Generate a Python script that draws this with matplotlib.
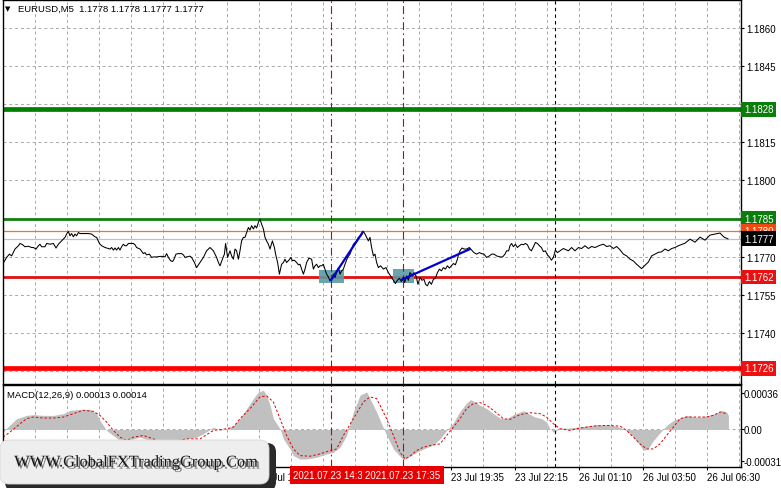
import matplotlib
matplotlib.use('Agg')
import matplotlib.pyplot as plt
from matplotlib.patches import Rectangle, FancyBboxPatch
from matplotlib.transforms import Affine2D, blended_transform_factory
import matplotlib.patheffects as pe

FONT = ['Liberation Sans', 'DejaVu Sans']
plt.rcParams['font.family'] = FONT

# ---------------- data ----------------
price_idx = [0, 1.8, 3.2, 4.3, 6, 7.7, 8.5, 9.8, 11, 12.7, 14.3, 15.2, 16.5, 17.7, 18.5, 19.3, 21, 21.8, 23.5, 25.2,
             26.5, 27.7, 29.3, 31, 31.8, 32.7, 33.5, 34.3, 35.2, 36, 36.8, 37.7, 38.5, 40.2, 42.7, 44.3, 46, 46.8, 48.2, 49.3,
             51, 51.8, 53.5, 54.3, 55.2, 56, 56.8, 57.7, 58.5, 59.3, 60.2, 61, 61.8, 62.7, 63.5, 65.2, 66, 66.8, 68.5, 70.2,
             71, 71.8, 73.2, 74.3, 75.2, 76.8, 78.5, 80.2, 81, 81.8, 82.7, 83.8, 84.8, 85.5, 86.5, 87.7, 89.3, 90.2, 91, 91.8,
             93.5, 94.3, 95.7, 96.8, 98.5, 100.2, 101.8, 103.5, 105.2, 106.8, 107.7, 108.5, 109.7, 110.7, 111.3, 112.3, 113.5, 114.3, 115.2, 116,
             116.8, 117.7, 118.5, 119.3, 120.2, 121, 121.8, 122.7, 123.5, 124.3, 125.2, 126, 126.8, 127.7, 128.5, 129.3, 130.2, 131, 131.8, 132.7,
             133.5, 134.7, 135.7, 136.3, 137.3, 138.2, 139.3, 140.2, 141, 141.8, 142.7, 144, 144.7, 145.7, 146.8, 147.7, 148.5, 149.3, 150.2, 151,
             151.8, 153, 154.3, 155.2, 156, 156.8, 157.7, 158.5, 159.3, 160.2, 160.7, 161.8, 162.7, 163.5, 164.3, 165.2, 166, 166.8, 167.7, 168.5,
             169.3, 170.2, 171, 172.3, 173.5, 175.2, 176.8, 177.7, 179, 180.2, 181, 181.8, 182.7, 183.5, 184.3, 185.2, 186, 186.8, 187.7, 188.8,
             190.2, 191.5, 192.7, 193.8, 195.2, 196.2, 197.2, 198.2, 199.2, 200.2, 200.8, 201.8, 202.7, 203.5, 204.8, 205.5, 206.5, 207.5, 208.5, 209.5,
             210.5, 211.3, 212.2, 213.2, 214.2, 215.2, 216.2, 217.2, 218.2, 219.2, 220.2, 221.2, 222.2, 223.2, 224.2, 225.2, 226.2, 227.2, 227.8, 228.5,
             229.5, 230.5, 231.8, 233.2, 234.3, 235.5, 236.8, 238.2, 239.3, 240.5, 241.8, 243.2, 244.3, 245.5, 246.8, 248.5, 249.8, 251, 251.8, 252.8,
             253.5, 254.3, 255.2, 256.2, 257.2, 258.2, 259.2, 260.2, 261.2, 262.2, 263.2, 264.2, 265.2, 266.2, 267.2, 268.2, 269.2, 270.2, 271.2, 272.2,
             273.2, 274.2, 275.2, 276.2, 277.2, 278.5, 280.2, 282.7, 284.3, 286, 287.7, 289.3, 291, 292.7, 294.3, 296, 298.5, 300.2, 301.8, 303.5,
             305.2, 306.8, 308.5, 310.2, 311.8, 313.5, 315.2, 316.8, 319.3, 321, 322.7, 324.3, 326, 327.7, 329.3, 331, 332.7, 334.3, 336, 337.7,
             341, 343.5, 346, 348.5, 351, 353.5, 356, 358.5, 360.5, 362.5]
price_val = [1.17673, 1.17697, 1.17710, 1.17703, 1.17730, 1.17743, 1.17752, 1.17747, 1.17739, 1.17741, 1.17736, 1.17736, 1.17730, 1.17743, 1.17749, 1.17739, 1.17739, 1.17752, 1.17749, 1.17752,
             1.17734, 1.17749, 1.17762, 1.17776, 1.17789, 1.17799, 1.17782, 1.17791, 1.17778, 1.17789, 1.17782, 1.17795, 1.17791, 1.17791, 1.17791, 1.17789, 1.17778, 1.17776, 1.17752, 1.17743,
             1.17736, 1.17734, 1.17730, 1.17736, 1.17726, 1.17734, 1.17726, 1.17736, 1.17726, 1.17739, 1.17749, 1.17743, 1.17743, 1.17752, 1.17752, 1.17752, 1.17747, 1.17736, 1.17730, 1.17712,
             1.17716, 1.17707, 1.17710, 1.17697, 1.17699, 1.17699, 1.17701, 1.17701, 1.17699, 1.17712, 1.17697, 1.17684, 1.17681, 1.17690, 1.17710, 1.17712, 1.17712, 1.17707, 1.17697, 1.17699,
             1.17702, 1.17697, 1.17677, 1.17657, 1.17677, 1.17697, 1.17723, 1.17736, 1.17723, 1.17697, 1.17677, 1.17664, 1.17690, 1.17710, 1.17752, 1.17697, 1.17723, 1.17703, 1.17690, 1.17730,
             1.17723, 1.17690, 1.17723, 1.17762, 1.17776, 1.17776, 1.17795, 1.17815, 1.17805, 1.17822, 1.17809, 1.17822, 1.17813, 1.17835, 1.17848, 1.17828, 1.17809, 1.17776, 1.17762, 1.17749,
             1.17730, 1.17762, 1.17736, 1.17710, 1.17677, 1.17631, 1.17670, 1.17677, 1.17690, 1.17677, 1.17684, 1.17697, 1.17684, 1.17686, 1.17677, 1.17668, 1.17670, 1.17651, 1.17631, 1.17651,
             1.17677, 1.17694, 1.17690, 1.17651, 1.17664, 1.17670, 1.17657, 1.17664, 1.17664, 1.17670, 1.17657, 1.17631, 1.17620, 1.17605, 1.17611, 1.17631, 1.17618, 1.17637, 1.17657, 1.17631,
             1.17644, 1.17651, 1.17670, 1.17697, 1.17710, 1.17749, 1.17762, 1.17776, 1.17782, 1.17799, 1.17789, 1.17776, 1.17762, 1.17776, 1.17736, 1.17703, 1.17710, 1.17677, 1.17657, 1.17664,
             1.17651, 1.17657, 1.17637, 1.17624, 1.17607, 1.17594, 1.17607, 1.17615, 1.17602, 1.17620, 1.17598, 1.17624, 1.17607, 1.17637, 1.17624, 1.17637, 1.17624, 1.17591, 1.17618, 1.17607,
             1.17611, 1.17591, 1.17585, 1.17602, 1.17591, 1.17611, 1.17615, 1.17637, 1.17651, 1.17644, 1.17657, 1.17651, 1.17664, 1.17655, 1.17664, 1.17673, 1.17668, 1.17690, 1.17710, 1.17723,
             1.17734, 1.17730, 1.17730, 1.17736, 1.17726, 1.17716, 1.17710, 1.17716, 1.17712, 1.17710, 1.17697, 1.17703, 1.17710, 1.17710, 1.17703, 1.17699, 1.17699, 1.17710, 1.17723, 1.17723,
             1.17743, 1.17752, 1.17739, 1.17749, 1.17736, 1.17743, 1.17749, 1.17747, 1.17752, 1.17747, 1.17730, 1.17723, 1.17739, 1.17756, 1.17752, 1.17743, 1.17736, 1.17720, 1.17723, 1.17707,
             1.17699, 1.17686, 1.17697, 1.17726, 1.17716, 1.17723, 1.17732, 1.17723, 1.17736, 1.17723, 1.17736, 1.17732, 1.17743, 1.17732, 1.17740, 1.17736, 1.17745, 1.17749, 1.17740, 1.17743,
             1.17732, 1.17740, 1.17727, 1.17710, 1.17703, 1.17690, 1.17683, 1.17670, 1.17653, 1.17666, 1.17679, 1.17703, 1.17710, 1.17717, 1.17719, 1.17730, 1.17723, 1.17732, 1.17736, 1.17743,
             1.17753, 1.17769, 1.17757, 1.17777, 1.17765, 1.17785, 1.17789, 1.17793, 1.17777, 1.17770]

hist_idx = [0, 1.8, 6.8, 11.8, 15.2, 20.2, 25.2, 30.2, 33.5, 38.5, 43.5, 46.8, 48.5, 51.8, 58.5, 61.8, 65.2, 68.5, 73.5, 78.5,
            83.5, 88.5, 91.8, 96.8, 100.2, 102.7, 105.2, 108.5, 111.8, 115.2, 118.5, 121.8, 125.2, 127.7, 130.2, 131.8, 133.5, 135.2, 138.5, 140.2,
            143.5, 145.2, 148.5, 151.8, 156.8, 161.8, 165.2, 168.5, 171.8, 175.2, 178.5, 181.8, 183.5, 186.8, 189.5, 191.8, 195.2, 198.5, 200.2, 203.5,
            206.8, 210.2, 215.2, 218.5, 221.8, 225.2, 228.5, 231.8, 233.8, 236, 238.5, 241.8, 245.2, 248.5, 251.8, 255.2, 258.5, 260.5, 262.7, 266,
            269.3, 271.8, 273.5, 275.2, 276.8, 279.3, 282.7, 286.8, 291.8, 296.8, 301.8, 306.8, 311, 314.3, 317.7, 320.2, 322.7, 325.2, 328.5, 331.8,
            335.2, 338.5, 341.8, 346, 349.3, 352.7, 356, 359.3, 361.8, 362.7]
hist_val = [-0.26, 0.13, 1.05, 1.37, 1.44, 1.37, 1.37, 1.54, 1.86, 1.96, 1.96, 1.54, 0.88, -0.10, -1.08, -1.08, -0.92, -0.75, -1.08, -1.41,
            -1.73, -1.08, -0.92, -0.75, -0.42, -0.10, 0.23, -0.10, 0.07, 0.39, 1.05, 2.03, 3.01, 3.66, 3.82, 3.33, 2.35, 1.05, 0.07, -0.92,
            -1.90, -2.55, -2.88, -2.88, -2.71, -2.39, -2.22, -1.73, -0.59, 1.70, 3.33, 3.66, 3.01, 1.70, 0.45, -0.55, -1.90, -2.61, -2.94, -2.61,
            -2.22, -1.90, -1.50, -0.92, -0.10, 0.65, 1.76, 2.58, 2.91, 2.68, 2.35, 2.03, 1.54, 1.11, 1.05, 1.44, 1.70, 1.83, 1.54, 1.21,
            1.05, 0.72, 0.07, -0.26, -0.10, 0.13, 0.13, 0.23, 0.33, 0.46, 0.46, 0.33, 0.00, -0.52, -1.31, -2.06, -1.83, -1.08, -0.33, 0.39,
            0.88, 1.11, 1.37, 1.21, 1.21, 1.37, 1.54, 1.86, 1.70, 1.37]

signal_idx = [0, 3.5, 8.5, 11.8, 15.2, 20.2, 25.2, 30.2, 35.2, 40.2, 45.2, 48.5, 51.8, 55.2, 58.5, 61.8, 65.2, 70.2, 75.2, 78.5,
              85.2, 91.8, 98.5, 105.2, 111.8, 115.2, 118.5, 123.5, 128.5, 131.8, 135.2, 138.5, 141.8, 145.2, 148.5, 153.5, 158.5, 163.5, 166.8, 170.2,
              175.2, 180.2, 183.5, 186.8, 188.5, 191.8, 195.2, 198.5, 201, 203.5, 206.8, 210.2, 215.2, 218.5, 221.8, 225.2, 228.5, 231.8, 235.2, 238.5,
              241.8, 245.2, 250.2, 253.5, 258.5, 263.5, 268.5, 271.8, 275.2, 278.5, 283.5, 288.5, 295.2, 301.8, 308.5, 311.8, 315.2, 318.5, 321.8, 325.2,
              328.5, 331.8, 335.2, 338.5, 341.8, 346.8, 351.8, 355.2, 358.5, 361.8]
signal_val = [-0.75, -0.26, 0.56, 1.05, 1.21, 1.11, 1.11, 1.21, 1.54, 1.86, 1.76, 1.37, 0.72, -0.10, -0.75, -1.08, -0.75, -0.59, -0.92, -1.24,
              -1.18, -0.92, -0.92, -0.10, 0.07, 0.23, 1.05, 2.03, 3.17, 3.27, 2.68, 1.05, -0.59, -1.90, -2.55, -2.61, -2.39, -2.06, -1.90, -0.59,
              1.05, 2.68, 3.17, 3.01, 2.35, 1.05, -0.59, -2.22, -2.88, -2.61, -2.06, -1.73, -1.50, -1.41, -0.59, 0.23, 1.05, 2.03, 2.52, 2.61,
              2.35, 1.86, 1.05, 0.98, 1.44, 1.63, 1.54, 1.21, 0.56, 0.07, -0.10, 0.13, 0.33, 0.39, 0.33, -0.10, -0.75, -1.41, -1.90, -1.90,
              -1.41, -0.59, 0.23, 1.05, 1.21, 1.21, 1.21, 1.37, 1.70, 1.54]
MACD_UNIT = 1e-4

price_ticks = [1.1725, 1.1740, 1.1755, 1.1770, 1.1785, 1.1800, 1.1815, 1.1830, 1.1845, 1.1860]
price_tick_labels = ['1.1725', '1.1740', '1.1755', '1.1770', '', '1.1800', '1.1815', '', '1.1845', '1.1860']
macd_ticks = [-0.00031, 0.0, 0.00036]
macd_tick_labels = ['-0.00031', '0.00', '0.00036']

time_tick_idx = [0, 32, 64, 96, 128, 160, 192, 224, 256, 288, 320, 352]
time_tick_labels = ['23 Jul 00:55', '23 Jul 03:35', '23 Jul 06:15', '23 Jul 08:55', '23 Jul 11:35', '', '',
                    '23 Jul 19:35', '23 Jul 22:15', '26 Jul 01:10', '26 Jul 03:50', '26 Jul 06:30']

# horizontal levels: (price, colour, width)
levels = [(1.1828, '#008000', 3.4), (1.1785, '#108010', 2.0), (1.1780, '#EE7722', 0.9),
          (1.1777, '#C0C0C0', 0.9), (1.1762, '#E01010', 2.0), (1.1726, '#FF0000', 3.4)]
# right-hand price labels: (price, text, background)
price_boxes = [(1.1828, '1.1828', '#0B7D0B'), (1.1785, '1.1785', '#0B7D0B'), (1.1780, '1.1780', '#F04A10'),
               (1.1777, '1.1777', '#000000'), (1.1762, '1.1762', '#E81010'), (1.1726, '1.1726', '#F01010')]

signal_bars = [164, 200]
signal_labels = ['2021.07.23 14:35', '2021.07.23 17:35']
day_separator = 276

zones = [(158, 170.5, 1.17598, 1.17647), (195, 205.7, 1.17598, 1.17652)]
blue_moves = [((164, 180), (1.17608, 1.17798)), ((199.3, 233.5), (1.17609, 1.17730))]

title = 'EURUSD,M5  1.1778 1.1778 1.1777 1.1777'
macd_title = 'MACD(12,26,9) 0.00013 0.00014'
logo_text = 'WWW.GlobalFXTradingGroup.Com'

# ---------------- figure ----------------
W, H = 781, 489
FS = 7.0
fig = plt.figure(figsize=(W / 100, H / 100), dpi=100)
fig.patch.set_facecolor('white')

def fbox(x0, y0, x1, y1):
    return [x0 / W, 1 - y1 / H, (x1 - x0) / W, (y1 - y0) / H]

PIX = Affine2D().scale(1, -1).translate(0, H).scale(1 / W, 1 / H) + fig.transFigure

ax = fig.add_axes(fbox(3, 0.5, 740.5, 384.5))
ax2 = fig.add_axes(fbox(3, 385.5, 740.5, 468))
XMAX = 368.75
for a in (ax, ax2):
    a.set_xlim(0, XMAX)
    for s in a.spines.values():
        s.set_color('black')
        s.set_linewidth(1.0)
ax.set_ylim(1.172006, 1.187125)
ax2.set_ylim(-0.000366, 0.000438)

GRID_KW = dict(color='#A8A8A8', linestyle=(0, (3, 3)), linewidth=0.7)

# main panel axes
ax.yaxis.tick_right()
ax.set_yticks(price_ticks)
ax.set_yticklabels(price_tick_labels)
ax.tick_params(axis='y', direction='out', length=2.5, width=0.8, pad=1.5, labelsize=FS, colors='black')
ax.set_xticks(list(range(16, 369, 16)))
ax.set_xticklabels([])
ax.tick_params(axis='x', length=0)
ax.grid(True, axis='both', **GRID_KW)
ax.set_axisbelow(True)

# macd panel axes
ax2.yaxis.tick_right()
ax2.set_yticks(macd_ticks)
ax2.set_yticklabels(macd_tick_labels)
ax2.tick_params(axis='y', direction='out', length=2.0, width=0.8, pad=0.3, labelsize=FS)
ax2.set_xticks(time_tick_idx)
ax2.set_xticklabels(time_tick_labels, ha='left')
ax2.set_xticks([i for i in range(16, 369, 32)], minor=True)
ax2.tick_params(axis='x', which='major', direction='out', length=2.5, width=0.8, pad=1.2, labelsize=FS)
ax2.tick_params(axis='x', which='minor', length=0)
ax2.grid(True, axis='x', which='both', **GRID_KW)
ax2.axhline(0, **GRID_KW, zorder=0.5)
ax2.set_axisbelow(True)

# levels
for p, c, lw in levels:
    ax.axhline(p, color=c, linewidth=lw, zorder=2)

# zones
for x0, x1, y0, y1 in zones:
    ax.add_patch(Rectangle((x0, y0), x1 - x0, y1 - y0, facecolor='#5A9AA4', edgecolor='none', alpha=0.9, zorder=2.5))

# price
ax.plot(price_idx, price_val, color='black', linewidth=0.75, zorder=3)

# blue moves
for xs, ys in blue_moves:
    ax.plot(xs, ys, color='#0000D0', linewidth=1.6, solid_capstyle='round', zorder=4)

# verticals
for a in (ax, ax2):
    for b in signal_bars:
        a.axvline(b, color='#D00000', linewidth=0.8, linestyle=(0, (7, 3, 1.5, 3)), zorder=3.5)
    a.axvline(day_separator, color='black', linewidth=0.8, linestyle=(0, (3, 3)), zorder=3.5)

# macd
hist = [v * MACD_UNIT for v in hist_val]
sig = [v * MACD_UNIT for v in signal_val]
ax2.fill_between(hist_idx, 0, hist, color='#C0C0C0', linewidth=0, zorder=1)
ax2.plot(signal_idx, sig, color='#E00000', linewidth=0.7, linestyle=(0, (2.5, 2)), zorder=2)

# right-hand price boxes
btrans = blended_transform_factory(ax.transAxes, ax.transData)
for k, (p, txt, bg) in enumerate(price_boxes):
    ax.text(1.0045, p, txt, transform=btrans, ha='left', va='center', fontsize=FS, color='white',
            clip_on=False, zorder=20 + k,
            bbox=dict(boxstyle='square,pad=0.25', facecolor=bg, edgecolor='none'))

# titles
fig.text(5, 9, '\u25BC', transform=PIX, fontsize=5, family='DejaVu Sans', va='center', ha='left')
fig.text(18, 9.5, title, transform=PIX, fontsize=6.8, va='center', ha='left')
fig.text(7, 395.5, macd_title, transform=PIX, fontsize=6.8, va='center', ha='left')

# bottom time-stamp boxes for the signal bars
xtrans = blended_transform_factory(ax2.transData, ax2.transAxes)
for k, (b, lab) in enumerate(zip(signal_bars, signal_labels)):
    ax2.text(b, -0.04, lab, transform=xtrans, ha='center', va='top', fontsize=FS, color='white',
             clip_on=False, zorder=30 + k,
             bbox=dict(boxstyle='square,pad=0.4', facecolor='#E80000', edgecolor='none'))

# logo
fig.add_artist(FancyBboxPatch((5, 444), 271, 48, boxstyle='round,pad=0,rounding_size=9',
                              transform=PIX, facecolor='#2A2A2A', edgecolor='none', zorder=60))
fig.add_artist(FancyBboxPatch((0, 441), 269, 44, boxstyle='round,pad=0,rounding_size=9',
                              transform=PIX, facecolor='#EEEEEE', edgecolor='#D8D8D8', linewidth=0.6, zorder=61))
fig.text(136, 463.5, logo_text, transform=PIX, family=['Liberation Serif', 'DejaVu Serif'], fontsize=11.8,
         color='#151515', ha='center', va='center', zorder=62,
         path_effects=[pe.withSimplePatchShadow(offset=(1.5, -1.5), shadow_rgbFace='#444444', alpha=0.7)])

fig.savefig('out.png', dpi=100, facecolor='white')
